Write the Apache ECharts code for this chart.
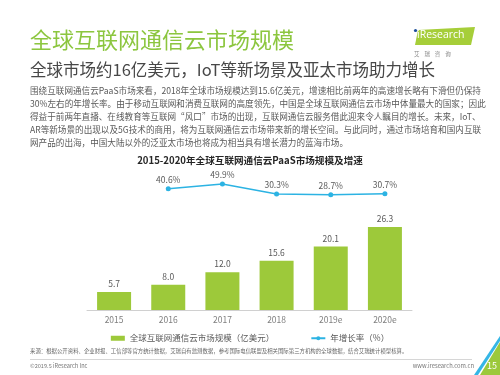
<!DOCTYPE html>
<html>
<head>
<meta charset="utf-8">
<script src="https://cdn.jsdelivr.net/npm/echarts@6/dist/echarts.min.js"></script>
<style>
html,body{margin:0;padding:0;background:#fff;}
#c{width:500px;height:375px;}
</style>
</head>
<body>
<div id="c"></div>
<script>
var categories = ['2015', '2016', '2017', '2018', '2019e', '2020e'];
var marketSize = [5.7, 8.0, 12.0, 15.6, 20.1, 26.3];
var growthRate = [null, 40.6, 49.9, 30.3, 28.7, 30.7];
var seriesNames = ['全球互联网通信云市场规模（亿美元）', '年增长率（%）'];
var pageTitle = '全球互联网通信云市场规模';
var pageSubtitle = '全球市场约16亿美元，IoT等新场景及亚太市场助力增长';
var paragraph = [
  '围绕互联网通信云PaaS市场来看，2018年全球市场规模达到15.6亿美元，增速相比前两年的高速增长略有下滑但仍保持',
  '30%左右的年增长率。由于移动互联网和消费互联网的高度领先，中国是全球互联网通信云市场中体量最大的国家；因此',
  '得益于前两年直播、在线教育等互联网“风口”市场的出现，互联网通信云服务借此迎来令人瞩目的增长。未来，IoT、',
  'AR等新场景的出现以及5G技术的商用，将为互联网通信云市场带来新的增长空间。与此同时，通过市场培育和国内互联',
  '网产品的出海，中国大陆以外的泛亚太市场也将成为相当具有增长潜力的蓝海市场。'
];
var chartTitle = '2015-2020年全球互联网通信云PaaS市场规模及增速';
var sourceText = '来源：根据公开资料、企业财报、工信部等官方统计数据，艾瑞自有监测数据，参考国际电信联盟及相关国际第三方机构的全球数据，结合艾瑞统计模型核算。';
var copyrightText = '©2019.5 iResearch Inc';
var siteText = 'www.iresearch.com.cn';
var pageNo = '15';

var FONT = '"Noto Sans CJK SC", "Open Sans", sans-serif';
var GREEN = '#9dc93a';
var BLUE = '#2cb3e3';

var chart = echarts.init(document.getElementById('c'), null, {renderer: 'canvas'});

var graphics = [];
graphics.push({type: 'text', left: 30, top: 29, style: {text: pageTitle, font: '22px ' + FONT, fill: '#8cc63f'}});
graphics.push({type: 'text', left: 30, top: 61, style: {text: pageSubtitle, font: '16.5px ' + FONT, fill: '#474747'}});
paragraph.forEach(function (line, i) {
  graphics.push({type: 'text', left: 30, top: 86 + i * 13, style: {text: line, font: '8.6px ' + FONT, fill: '#595959'}});
});
// logo
graphics.push({type: 'polygon', shape: {points: [[418, 30], [475, 27], [471, 45], [415, 45]]}, style: {fill: '#a6ce39'}});
graphics.push({type: 'text', left: 417, top: 30, style: {text: 'iResearch', font: '10.5px "Open Sans", sans-serif', fill: '#ffffff'}});
graphics.push({type: 'circle', shape: {cx: 415.5, cy: 30.5, r: 1.6}, style: {fill: '#1b4e9b'}});
graphics.push({type: 'text', left: 414, top: 51, style: {text: '艾    瑞    咨    询', font: '5.5px ' + FONT, fill: '#888888'}});
// footer
graphics.push({type: 'text', left: 30, top: 348, style: {text: sourceText, font: '5.4px ' + FONT, fill: '#666666'}});
graphics.push({type: 'line', shape: {x1: 30, y1: 359.5, x2: 472, y2: 359.5}, style: {stroke: '#bbbbbb', lineWidth: 0.6}});
graphics.push({type: 'text', left: 30, top: 363, style: {text: copyrightText, font: '5.6px ' + FONT, fill: '#777777'}});
graphics.push({type: 'text', right: 26, top: 363, style: {text: siteText, font: '5.8px ' + FONT, fill: '#777777'}});
// corner decoration
graphics.push({type: 'polygon', shape: {points: [[500, 336], [500, 341], [478, 375], [474, 375]]}, style: {fill: '#35b6e6'}});
graphics.push({type: 'polygon', shape: {points: [[500, 342], [500, 375], [480, 375]]}, style: {fill: '#9cc93b'}});
graphics.push({type: 'text', left: 487, top: 361, style: {text: pageNo, font: '9px ' + FONT, fill: '#ffffff'}});

var option = {
  animation: false,
  backgroundColor: '#ffffff',
  textStyle: {fontFamily: FONT},
  title: {
    text: chartTitle,
    left: 'center',
    top: 151,
    textStyle: {fontSize: 9.6, fontWeight: 'bold', color: '#262626', fontFamily: FONT}
  },
  legend: {
    top: 329,
    left: 'center',
    itemGap: 36,
    itemWidth: 14,
    itemHeight: 5,
    textStyle: {fontSize: 8.5, color: '#595959', fontFamily: FONT},
    data: [
      {name: seriesNames[0], icon: 'rect'},
      {name: seriesNames[1]}
    ]
  },
  grid: {left: 87, right: 88, top: 175, bottom: 65},
  xAxis: {
    type: 'category',
    data: categories,
    axisLine: {lineStyle: {color: '#d0d0d0', width: 1}},
    axisTick: {show: false},
    axisLabel: {fontSize: 8.5, color: '#7f7f7f', margin: 6, fontFamily: FONT}
  },
  yAxis: [
    {type: 'value', min: 0, max: 42.8, show: false, splitLine: {show: false}},
    {type: 'value', min: -199.6, max: 67.7, show: false, splitLine: {show: false}}
  ],
  series: [
    {
      name: seriesNames[0],
      type: 'bar',
      data: marketSize,
      barWidth: 34,
      itemStyle: {color: GREEN},
      label: {show: true, position: 'top', distance: 4, fontSize: 8.5, color: '#595959',
        formatter: function (p) { return p.value.toFixed(1); }}
    },
    {
      name: seriesNames[1],
      type: 'line',
      yAxisIndex: 1,
      data: growthRate,
      symbol: 'circle',
      symbolSize: 5,
      lineStyle: {color: BLUE, width: 1.5},
      itemStyle: {color: BLUE},
      label: {show: true, position: 'top', distance: 2, fontSize: 8.5, color: '#595959',
        formatter: function (p) { return p.value.toFixed(1) + '%'; }}
    }
  ],
  graphic: graphics
};
chart.setOption(option);
</script>
</body>
</html>
